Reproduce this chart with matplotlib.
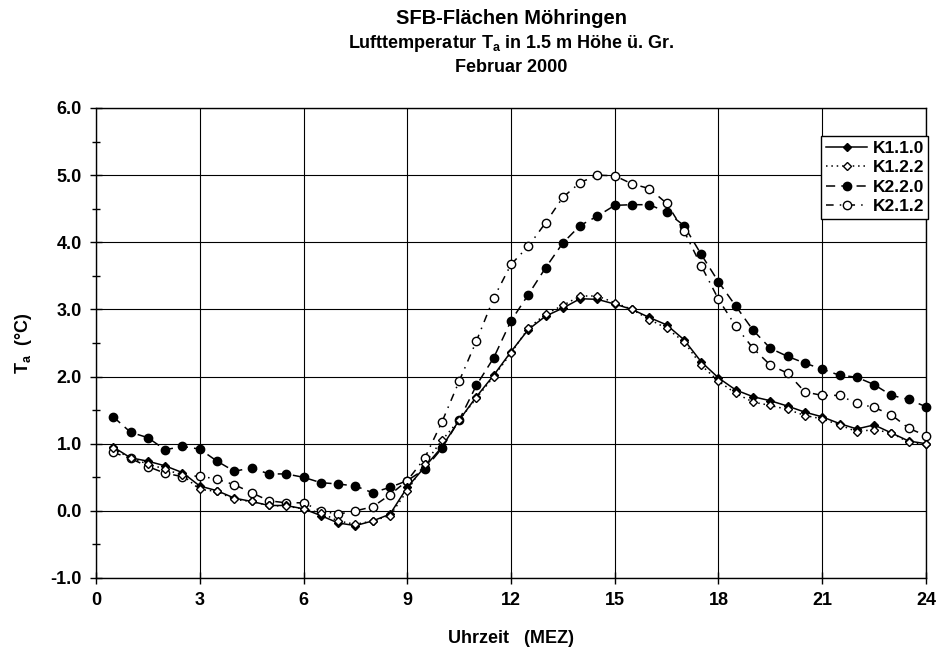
import matplotlib
matplotlib.use("Agg")
import matplotlib.pyplot as plt
from matplotlib.ticker import MultipleLocator

plt.rcParams['font.family'] = ['Liberation Sans', 'DejaVu Sans']
plt.rcParams['font.weight'] = 'bold'
plt.rcParams['mathtext.fontset'] = 'custom'
plt.rcParams['mathtext.bf'] = 'Liberation Sans:bold'
plt.rcParams['mathtext.rm'] = 'Liberation Sans:bold'

hours = [0.5 * i for i in range(1, 49)]

k110 = [0.95, 0.79, 0.74, 0.67, 0.57, 0.37, 0.30, 0.19, 0.14, 0.08, 0.08, 0.03,
        -0.07, -0.18, -0.22, -0.15, -0.05, 0.35, 0.65, 0.95, 1.35, 1.70, 2.02, 2.37,
        2.70, 2.90, 3.02, 3.16, 3.15, 3.08, 3.00, 2.88, 2.77, 2.55, 2.22, 1.98,
        1.80, 1.70, 1.64, 1.56, 1.47, 1.40, 1.30, 1.22, 1.28, 1.16, 1.04, 1.00]
k122 = [0.93, 0.78, 0.70, 0.62, 0.53, 0.32, 0.29, 0.17, 0.14, 0.08, 0.07, 0.03,
        -0.03, -0.15, -0.20, -0.15, -0.07, 0.30, 0.70, 1.05, 1.35, 1.68, 2.00, 2.35,
        2.72, 2.93, 3.06, 3.20, 3.20, 3.10, 3.00, 2.85, 2.72, 2.52, 2.17, 1.93,
        1.75, 1.62, 1.57, 1.51, 1.42, 1.37, 1.28, 1.18, 1.21, 1.16, 1.02, 0.99]
k220 = [1.40, 1.17, 1.09, 0.91, 0.96, 0.92, 0.74, 0.59, 0.64, 0.55, 0.55, 0.50,
        0.42, 0.40, 0.37, 0.27, 0.35, 0.45, 0.62, 0.93, 1.35, 1.87, 2.28, 2.83,
        3.22, 3.62, 3.99, 4.25, 4.39, 4.55, 4.56, 4.56, 4.45, 4.25, 3.82, 3.41,
        3.05, 2.69, 2.42, 2.30, 2.20, 2.11, 2.02, 1.99, 1.88, 1.72, 1.66, 1.55]
k212 = [0.87, 0.78, 0.66, 0.56, 0.51, 0.52, 0.47, 0.39, 0.27, 0.15, 0.12, 0.12,
        0.00, -0.05, 0.00, 0.06, 0.24, 0.45, 0.78, 1.32, 1.93, 2.53, 3.17, 3.67,
        3.94, 4.29, 4.67, 4.89, 5.00, 4.99, 4.87, 4.80, 4.58, 4.17, 3.65, 3.15,
        2.75, 2.42, 2.17, 2.05, 1.77, 1.72, 1.72, 1.60, 1.54, 1.43, 1.23, 1.12]

series_names = ['K1.1.0', 'K1.2.2', 'K2.2.0', 'K2.1.2']
x_ticks = [0, 3, 6, 9, 12, 15, 18, 21, 24]

fig = plt.figure(figsize=(9.41, 6.55), dpi=100)
ax = fig.add_axes([96/941, 1-578/655, 830/941, 470/655])

ax.plot(hours, k110, color='black', lw=1.1, ls='-', marker='D', ms=4.5,
        mfc='black', mec='black', label=series_names[0], zorder=4, clip_on=False)
ax.plot(hours, k122, color='black', lw=1.1, ls=(0, (1, 2.5)), marker='D', ms=4.5,
        mfc='white', mec='black', mew=1.0, label=series_names[1], zorder=5, clip_on=False)
ax.plot(hours, k220, color='black', lw=1.1, ls=(0, (6, 4)), marker='o', ms=6,
        mfc='black', mec='black', label=series_names[2], zorder=3, clip_on=False)
ax.plot(hours, k212, color='black', lw=1.1, ls=(0, (5, 4, 1, 4)), marker='o', ms=6,
        mfc='white', mec='black', mew=1.0, label=series_names[3], zorder=3, clip_on=False)

ax.set_xlim(0, 24)
ax.set_ylim(-1, 6)
ax.set_xticks(x_ticks)
ax.yaxis.set_major_locator(MultipleLocator(1.0))
ax.yaxis.set_minor_locator(MultipleLocator(0.5))
ax.set_yticklabels([f'{v:.1f}' for v in ax.get_yticks()])
ax.grid(True, which='major', color='black', lw=0.8)
ax.tick_params(axis='both', which='major', direction='inout', length=8, width=1,
               labelsize=13, pad=6)
ax.tick_params(axis='y', which='minor', direction='inout', length=6, width=1)
for lbl in ax.get_xticklabels() + ax.get_yticklabels():
    lbl.set_fontweight('bold')
for sp in ax.spines.values():
    sp.set_color('black')
    sp.set_linewidth(1.0)

ax.set_xlabel('Uhrzeit   (MEZ)', fontsize=13, fontweight='bold', labelpad=15)
ax.set_ylabel(r'T$_\mathbf{a}$  (°C)', fontsize=13, fontweight='bold', labelpad=12)

leg = ax.legend(loc='upper right', bbox_to_anchor=(1.003, 0.94), fancybox=False,
                edgecolor='black', framealpha=1, fontsize=12.5, handlelength=2.4,
                borderpad=0.25, labelspacing=0.25, handletextpad=0.3, borderaxespad=0)
leg.get_frame().set_linewidth(1.0)
for t in leg.get_texts():
    t.set_fontweight('bold')

cx = (96 + 926) / 2 / 941
fig.text(cx, 1 - 18/655, 'SFB-Flächen Möhringen', ha='center', va='center',
         fontsize=14.5, fontweight='bold')
fig.text(cx, 1 - 43/655, r'Lufttemperatur T$_\mathbf{a}$ in 1.5 m Höhe ü. Gr.', ha='center',
         va='center', fontsize=13, fontweight='bold')
fig.text(cx, 1 - 67/655, 'Februar 2000', ha='center', va='center',
         fontsize=13, fontweight='bold')

fig.savefig('out.png', dpi=100)
